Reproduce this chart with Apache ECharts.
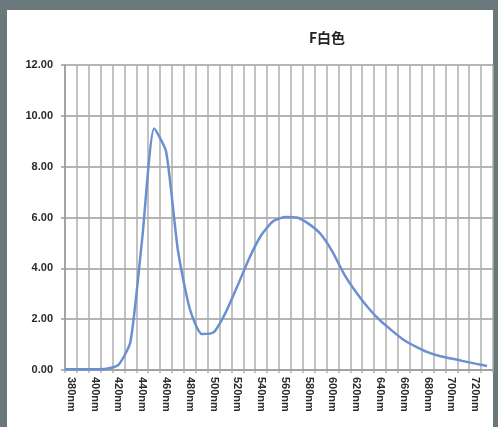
<!DOCTYPE html>
<html>
<head>
<meta charset="utf-8">
<script src="https://cdn.jsdelivr.net/npm/echarts@6/dist/echarts.min.js"></script>
<style>
  html, body { margin: 0; padding: 0; width: 498px; height: 427px; overflow: hidden; background: #6a777b; }
  #panel { position: absolute; left: 7px; top: 10px; right: 5px; bottom: 0; background: #ffffff; }
  #chart { position: absolute; left: 0; top: 0; width: 498px; height: 427px; }
</style>
</head>
<body>
<div id="panel"></div>
<div id="chart"></div>
<script>
// Relative spectral output of an F white fluorescent lamp
const chartTitle = 'F白色';
const wavelengths = [375, 380, 390, 400, 410, 420, 430, 440, 450, 460, 470, 480, 490, 500,
  510, 520, 530, 540, 550, 560, 570, 580, 590, 600, 610, 620, 630, 640, 650, 660,
  670, 680, 690, 700, 710, 720, 730];
const intensity = [0.03, 0.03, 0.03, 0.03, 0.05, 0.2, 1.1, 5.2, 9.5, 8.6, 4.7, 2.4, 1.42, 1.48,
  2.25, 3.3, 4.4, 5.3, 5.85, 6.02, 6.0, 5.75, 5.35, 4.65, 3.75, 3.05, 2.45, 1.95, 1.55, 1.18,
  0.92, 0.7, 0.55, 0.45, 0.35, 0.25, 0.16];
// Axis runs 375–735 nm in 5 nm slots; gridlines every 10 nm, labels every 20 nm
const axisStart = 375, axisEnd = 735, axisStep = 5;
const labelFrom = 380, labelTo = 720, labelEvery = 20;
const yTicks = { min: 0, max: 12, step: 2 };

const categories = [];
for (let w = axisStart; w <= axisEnd; w += axisStep) categories.push(w + 'nm');

const lineData = wavelengths.map((w, i) => [w + 'nm', intensity[i]]);

const gridColor = '#aeaeae';
const chart = echarts.init(document.getElementById('chart'), null, { renderer: 'canvas' });
chart.setOption({
  backgroundColor: 'transparent',
  animation: false,
  title: {
    text: chartTitle,
    left: 322,
    top: 26,
    textAlign: 'center',
    textStyle: { fontFamily: '"Noto Sans CJK JP", sans-serif', fontWeight: 'bold', fontSize: 14, color: '#222' }
  },
  grid: { left: 65, top: 65, width: 428, height: 305, containLabel: false },
  xAxis: {
    type: 'category',
    data: categories,
    boundaryGap: false,
    axisLine: { show: true, lineStyle: { color: '#9a9a9a', width: 1.5 } },
    axisTick: {
      show: true, length: 3, inside: false,
      interval: (idx) => idx % 2 === 0,
      lineStyle: { color: gridColor, width: 1.5 }
    },
    axisLabel: {
      interval: (idx, val) => {
        const w = parseInt(val, 10);
        return w >= labelFrom && w <= labelTo && (w - labelFrom) % labelEvery === 0;
      },
      rotate: -90,
      margin: 7,
      fontFamily: '"Liberation Sans", Arial, sans-serif',
      fontWeight: 'bold',
      fontSize: 11,
      color: '#2a2a2a'
    },
    splitLine: {
      show: true,
      interval: (idx) => idx % 2 === 0,
      lineStyle: { color: gridColor, width: 1.5 }
    }
  },
  yAxis: {
    type: 'value',
    min: yTicks.min,
    max: yTicks.max,
    interval: yTicks.step,
    axisLine: { show: true, lineStyle: { color: '#9a9a9a', width: 1.5 } },
    axisTick: { show: true, length: 4, lineStyle: { color: '#9a9a9a', width: 1.5 } },
    axisLabel: {
      formatter: (v) => v.toFixed(2),
      margin: 12,
      fontFamily: '"Liberation Sans", Arial, sans-serif',
      fontWeight: 'bold',
      fontSize: 11,
      color: '#2a2a2a'
    },
    splitLine: { show: true, lineStyle: { color: '#9d9d9d', width: 1.5 } }
  },
  series: [{
    type: 'line',
    data: lineData,
    showSymbol: false,
    smooth: 0.2,
    lineStyle: { color: '#6b8fd0', width: 2.5 },
    itemStyle: { color: '#6b8fd0' }
  }]
});
</script>
</body>
</html>
